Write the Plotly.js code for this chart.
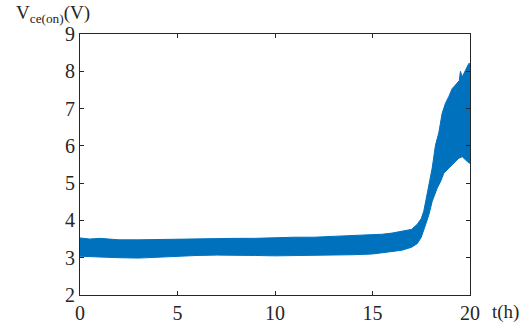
<!DOCTYPE html>
<html>
<head>
<meta charset="utf-8">
<script src="https://cdn.plot.ly/plotly-3.0.1.min.js"></script>
<style>html,body{margin:0;padding:0;background:#fff;}#chart{width:528px;height:325px;}</style>
</head>
<body>
<div id="chart"></div>
<script>
// Upper envelope of the V_ce(on) signal band
const upperT = [0, 0.5, 1, 2, 3, 4, 5, 6, 7, 8, 9, 10, 11, 12, 13, 14, 15, 15.5, 16, 16.5, 17, 17.3, 17.5, 17.63, 17.81, 18.06, 18.23, 18.4, 18.57, 18.74, 18.91, 19.09, 19.2, 19.34, 19.45, 19.51, 19.6, 19.77, 19.94, 20];
const upperV = [3.53, 3.50, 3.52, 3.48, 3.48, 3.49, 3.50, 3.51, 3.51, 3.52, 3.52, 3.54, 3.55, 3.55, 3.57, 3.58, 3.60, 3.63, 3.66, 3.70, 3.76, 3.90, 4.05, 4.25, 4.69, 5.40, 6.02, 6.35, 6.87, 7.14, 7.32, 7.54, 7.60, 7.67, 7.75, 8.00, 7.85, 8.03, 8.21, 8.20];
// Lower envelope of the band
const lowerT = [0, 1, 2, 3, 4, 5, 6, 7, 8, 9, 10, 11, 12, 13, 14, 15, 15.5, 16, 16.5, 17, 17.3, 17.5, 17.7, 17.89, 18.06, 18.32, 18.49, 18.66, 18.91, 19.17, 19.43, 19.6, 19.86, 20];
const lowerV = [3.04, 3.03, 3.00, 2.99, 3.00, 3.04, 3.06, 3.07, 3.07, 3.06, 3.05, 3.07, 3.06, 3.07, 3.08, 3.10, 3.13, 3.17, 3.20, 3.28, 3.38, 3.55, 3.85, 4.15, 4.51, 4.87, 5.04, 5.27, 5.40, 5.53, 5.67, 5.71, 5.58, 5.53];
const xTicks = [0, 5, 10, 15, 20];
const yTicks = [2, 3, 4, 5, 6, 7, 8, 9];

const polyX = upperT.concat(lowerT.slice().reverse());
const polyY = upperV.concat(lowerV.slice().reverse());

const blue = '#0072BD';
const serif = 'Liberation Serif';
const data = [{
  type: 'scatter', mode: 'lines', x: polyX, y: polyY,
  fill: 'toself', fillcolor: blue,
  line: {color: blue, width: 1}, hoverinfo: 'skip', showlegend: false
}];

const axisCommon = {
  showgrid: false, zeroline: false, showline: true, mirror: 'ticks',
  linecolor: '#262626', linewidth: 1, ticks: 'inside', ticklen: 4,
  tickcolor: '#262626', tickwidth: 1,
  tickfont: {family: serif, size: 20, color: '#262626'}
};

const layout = {
  width: 528, height: 325,
  font: {family: serif, size: 20, color: '#262626'},
  margin: {l: 80, r: 58, t: 34, b: 30},
  paper_bgcolor: '#fff', plot_bgcolor: '#fff',
  xaxis: Object.assign({}, axisCommon, {range: [0, 20], tickvals: xTicks, ticktext: xTicks.map(String)}),
  yaxis: Object.assign({}, axisCommon, {range: [2, 9], tickvals: yTicks, ticktext: yTicks.map(String)}),
  annotations: [
    {text: 'V<sub>ce(on)</sub>(V)', xref: 'paper', yref: 'paper', x: -0.17, y: 1.075,
     xanchor: 'left', yanchor: 'middle', showarrow: false,
     font: {family: serif, size: 19, color: '#262626'}},
    {text: 't(h)', xref: 'paper', yref: 'paper', x: 1.05, y: -0.065,
     xanchor: 'left', yanchor: 'middle', showarrow: false,
     font: {family: serif, size: 19, color: '#262626'}}
  ]
};

Plotly.newPlot('chart', data, layout, {displayModeBar: false, staticPlot: true});
</script>
</body>
</html>
